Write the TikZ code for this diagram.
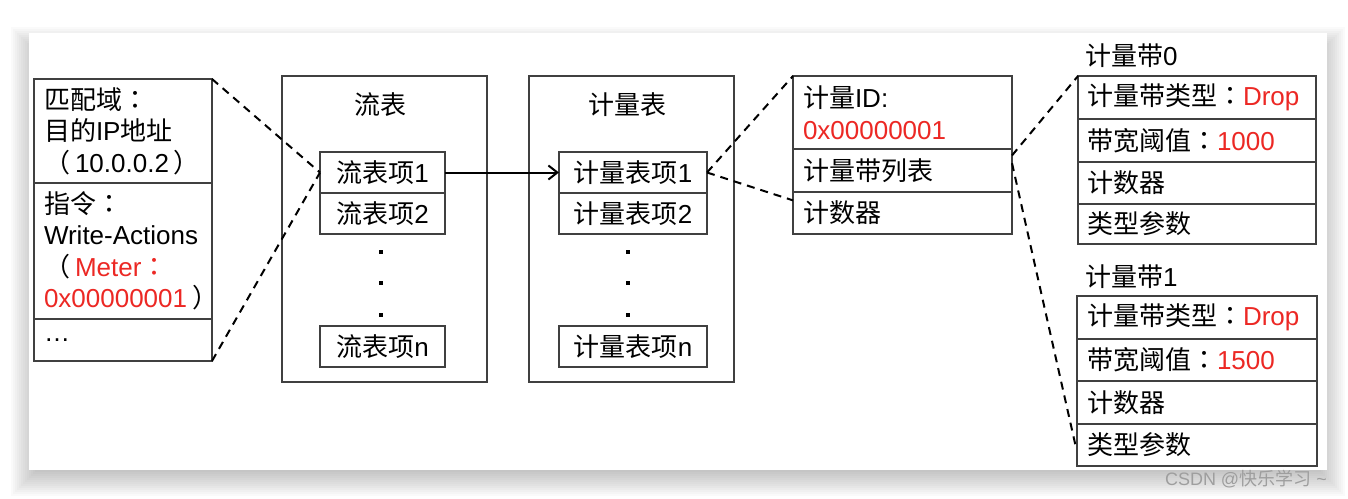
\documentclass[tikz,border=0pt]{standalone}
\usepackage{fontspec}
\setmainfont{Noto Sans CJK SC}
\newfontfamily\lat{Liberation Sans}
\newfontfamily\punct{Noto Sans CJK TC}
\usetikzlibrary{arrows.meta, positioning, calc}
\definecolor{meterred}{RGB}{236,40,36}
\definecolor{boxline}{RGB}{64,64,64}
\newcommand{\red}[1]{\textcolor{meterred}{#1}}
\newcommand{\pc}[1]{{\punct #1}}

\begin{document}
\begin{tikzpicture}[x=1pt, y=-1pt,
        every node/.style={font=\fontsize{26pt}{31.5pt}\selectfont, inner sep=0pt, outer sep=0pt},
        cell/.style={rectangle, draw=boxline, line width=1.4pt, align=left, inner xsep=10pt, inner ysep=0pt},
        entry/.style={rectangle, draw=boxline, line width=1.4pt, align=center},
        flowentry/.style={entry, minimum width=125pt, minimum height=41pt},
        meterentry/.style={entry, minimum width=148pt, minimum height=41pt},
        tablebox/.style={rectangle, draw=boxline, line width=1.4pt, minimum width=205pt, minimum height=306pt},
        link/.style={dash pattern=on 8pt off 6pt, line width=2pt},
        call/.style={-{Straight Barb[length=9pt, width=14pt]}, line width=2pt}
    ]
        \useasboundingbox (0,0) rectangle (1348,498);
        % soft shadow behind the white sheet
        \foreach \i in {1,...,14}
            \fill[black, opacity=0.018] (39-2*\i, 55-2*\i) rectangle (1317+2*\i, 468+2*\i);
        \fill[white] (29,33) rectangle (1327,470);

        % flow entry fields
        \node[cell, text width=158pt, minimum height=104pt, anchor=north west] (match) at (34,79) {
            匹配域\pc{：}\\
            目的{\lat IP}地址\\
            \mbox{\pc{（}\kern5pt{\lat 10.0.0.2}\kern5pt\pc{）}}
        };
        \node[cell, text width=158pt, minimum height=136pt, below=0pt of match] (instr) {
            指令\pc{：}\\
            {\lat Write-Actions}\\
            \mbox{\pc{（}\kern5pt\red{{\lat Meter}\pc{：}}}\\
            \mbox{\red{\lat 0x00000001}\kern5pt\pc{）}}
        };
        \node[cell, text width=158pt, minimum height=42pt, below=0pt of instr] (more) {{\lat …}};

        % flow table
        \node[tablebox, anchor=north west] (flowtab) at (282,76) {};
        \node (flowtitle) at (380,105) {流表};
        \node[flowentry, anchor=north west] (fe1) at (320,152) {流表项{\lat 1}};
        \node[flowentry, below=0pt of fe1] (fe2) {流表项{\lat 2}};
        \node[flowentry, anchor=north west] (fen) at (320,326) {流表项{\lat n}};

        % meter table
        \node[tablebox, anchor=north west] (metertab) at (529,76) {};
        \node (metertitle) at (627,105) {计量表};
        \node[meterentry, anchor=north west] (me1) at (559,152) {计量表项{\lat 1}};
        \node[meterentry, below=0pt of me1] (me2) {计量表项{\lat 2}};
        \node[meterentry, anchor=north west] (men) at (559,326) {计量表项{\lat n}};

        \foreach \x in {381,628}
            \foreach \y in {252,283,315}
                \fill (\x-2,\y-2) rectangle ++(4,4);

        % meter entry fields
        \node[cell, text width=199pt, minimum height=73pt, anchor=north west] (mid) at (793,76) {
            计量{\lat ID:}\\
            \red{\lat 0x00000001}
        };
        \node[cell, text width=199pt, minimum height=43pt, below=0pt of mid] (bandlist) {计量带列表};
        \node[cell, text width=199pt, minimum height=42pt, below=0pt of bandlist] (counter) {计数器};

        % band 0
        \node[anchor=west] (band0) at (1085,56) {计量带{\lat 0}};
        \node[cell, text width=220pt, inner xsep=9pt, minimum height=43pt, anchor=north west] (b0type) at (1078,76) {计量带类型\pc{：}\red{\lat Drop}};
        \node[cell, text width=220pt, inner xsep=9pt, minimum height=43pt, below=0pt of b0type] (b0rate) {带宽阈值\pc{：}\red{\lat 1000}};
        \node[cell, text width=220pt, inner xsep=9pt, minimum height=42pt, below=0pt of b0rate] (b0count) {计数器};
        \node[cell, text width=220pt, inner xsep=9pt, minimum height=40pt, below=0pt of b0count] (b0param) {类型参数};

        % band 1
        \node[anchor=west] (band1) at (1085,277) {计量带{\lat 1}};
        \node[cell, text width=220pt, minimum height=43pt, anchor=north west] (b1type) at (1077,296) {计量带类型\pc{：}\red{\lat Drop}};
        \node[cell, text width=220pt, minimum height=42pt, below=0pt of b1type] (b1rate) {带宽阈值\pc{：}\red{\lat 1500}};
        \node[cell, text width=220pt, minimum height=43pt, below=0pt of b1rate] (b1count) {计数器};
        \node[cell, text width=220pt, minimum height=42pt, below=0pt of b1count] (b1param) {类型参数};

        \draw[link] (match.north east) -- (fe1.west);
        \draw[link] (more.south east) -- (fe1.west);
        \draw[call] (fe1) -- (me1);
        \draw[link] (me1.east) -- (mid.north west);
        \draw[link] (me1.east) -- ($(counter.north west)!0.2!(counter.south west)$);
        \draw[link] ($(bandlist.north east)!0.15!(bandlist.south east)$) -- (b0type.north west);
        \draw[link, shorten >=4pt] ($(bandlist.north east)!0.33!(bandlist.south east)$) -- ($(b1param.north west)!0.67!(b1param.south west)$);

        \node[anchor=west, font=\fontsize{18pt}{21pt}\selectfont, text=black!38] (mark) at (1165,479) {{\lat CSDN @}快乐学习{\lat\ \textasciitilde}};
    \end{tikzpicture}
\end{document}
